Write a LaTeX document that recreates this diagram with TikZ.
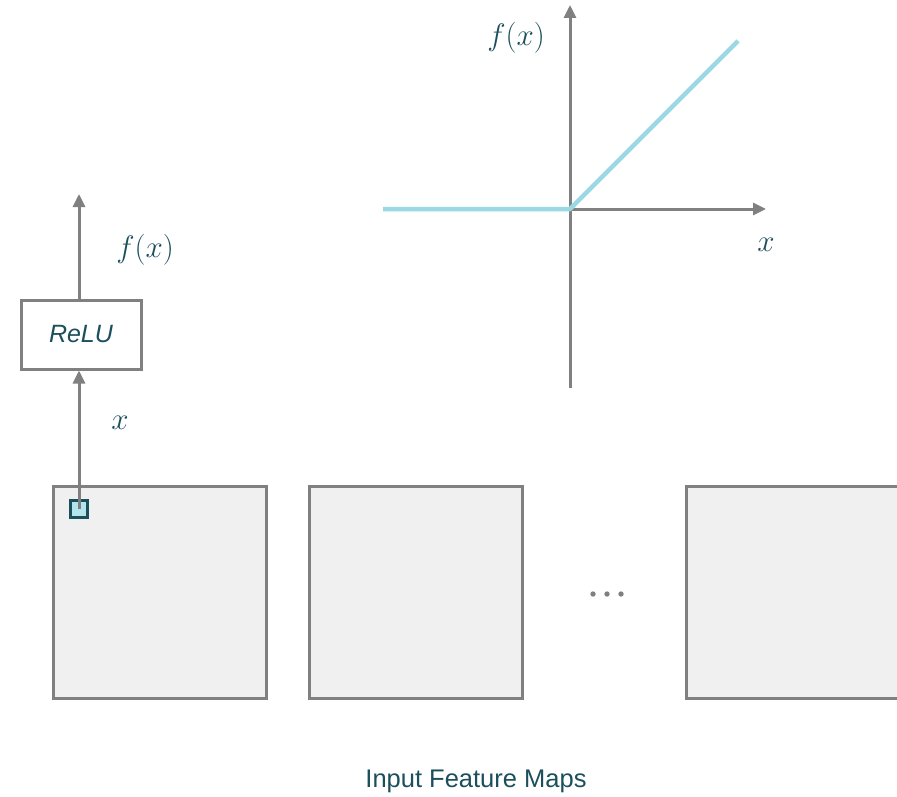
\RequirePackage{fix-cm}
\documentclass[tikz,border=0pt]{standalone}
\usepackage{fontspec}
\setsansfont{Liberation Sans}
\usetikzlibrary{arrows.meta}
\definecolor{mapfill}{HTML}{F0F0F0}
\definecolor{edgegray}{HTML}{808080}
\definecolor{txt}{HTML}{1B4F5C}
\definecolor{relu}{HTML}{9AD9E4}
\definecolor{pix}{HTML}{B4E4EC}
\begin{document}
\begin{tikzpicture}[x=1pt,y=-1pt,
  fmap/.style={draw=edgegray,fill=mapfill,line width=3pt},
  garrow/.style={draw=edgegray,line width=3pt,-{Triangle[length=13pt,width=12pt]}},
  mathlbl/.style={text=txt,font=\fontsize{31}{35}\selectfont},
  sanslbl/.style={text=txt,font=\sffamily\fontsize{25.5}{30}\selectfont}]
\useasboundingbox (0,0) rectangle (897,797);
\begin{scope}
\clip (0,0) rectangle (897,797);
\draw[fmap] (53,486) rectangle (266,698);
\draw[fmap] (309,486) rectangle (522,698);
\draw[fmap] (686,486) rectangle (920,698);
\end{scope}
\foreach \xx in {593,607,621} \fill[edgegray] (\xx,594) circle (2.7pt);
\node[draw=txt,fill=pix,line width=2.5pt,minimum size=17pt,inner sep=0pt] (px) at (79,509) {};
\node[draw=edgegray,fill=white,line width=3pt,minimum width=120pt,minimum height=69pt,inner sep=0pt,
  text=txt,font=\sffamily\itshape\fontsize{25}{30}\selectfont] (box) at (81,334.5) {ReLU};
\coordinate (top) at (79,194);
\draw[garrow] (px.center) -- (px.center |- box.south);
\draw[garrow] (px.center |- box.north) -- (top);
\node[mathlbl] (fx1) at (145,250) {$f(x)$};
\node[mathlbl] (x1) at (120,423) {$x$};
% plot
\coordinate (o) at (570,209);
\coordinate (yb) at (570,388);
\coordinate (yt) at (570,5);
\coordinate (xr) at (766,209);
\draw[garrow] (yb) -- (yt);
\draw[garrow] (o) -- (xr);
\coordinate (cl) at (383,209);
\coordinate (ce) at (738,41);
\draw[relu,line width=4.5pt,line join=round] (cl) -- (o) -- (ce);
\node[mathlbl] (fx2) at (516,38) {$f(x)$};
\node[mathlbl] (x2) at (766,245) {$x$};
\node[sanslbl] (title) at (476,781) {Input Feature Maps};
\end{tikzpicture}
\end{document}
